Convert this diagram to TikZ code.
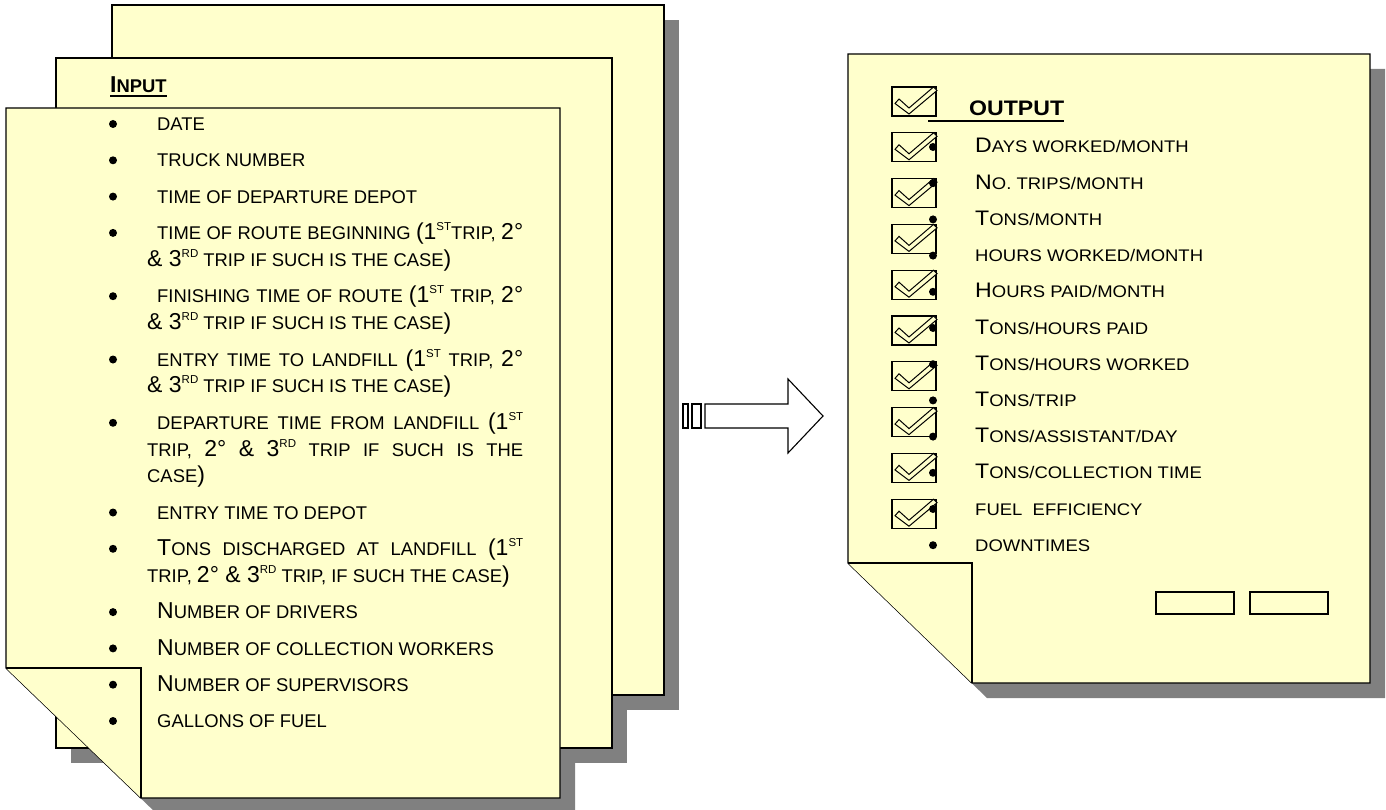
\documentclass[tikz,border=0pt]{standalone}
\usepackage{fontspec}
\setmainfont{Liberation Sans}
\newfontfamily\rfont{Liberation Sans}[FakeStretch=1.1]
\definecolor{paper}{HTML}{FFFFCC}
\definecolor{shade}{HTML}{808080}
% large capitals and raised ordinals for the small-caps style lists
\newcommand\Bg[1]{{\fontsize{23}{26.7}\selectfont #1}}
\newcommand\Sp[1]{\raisebox{9pt}{\fontsize{11.5}{11.5}\selectfont #1}}
\newcommand\RB[1]{{\fontsize{21}{26}\selectfont #1}}
\tikzset{
  sheet/.style={fill=paper, draw=black, line width=1.4pt, line join=miter},
  sheetshadow/.style={fill=shade},
  txt/.style={inner sep=0pt, anchor=base west, font=\fontsize{18.4}{26.7}\selectfont},
  rtxt/.style={inner sep=0pt, anchor=base west, font=\rfont\fontsize{16.8}{26}\selectfont},
  dot/.style={fill=black},
  tickbox/.style={fill=paper, draw=black, line width=1.2pt},
  tick/.style={fill=paper, draw=black, line width=1pt, line join=miter},
  arrowshape/.style={fill=white, draw=black, line width=1.1pt, line join=miter}
}
\begin{document}
\begin{tikzpicture}[x=1pt, y=-1pt]
\useasboundingbox (0,0) rectangle (1386,810);

% ---- shadows (behind every sheet) ----
\begin{scope}[shift={(15,15)}]
  \fill[sheetshadow] (112,5) rectangle (664,695);
  \fill[sheetshadow] (56,58) rectangle (612,748);
  \fill[sheetshadow] (6,108) -- (560,108) -- (560,798) -- (141,798) -- (6,668) -- cycle;
  \fill[sheetshadow] (848,54) -- (1370,54) -- (1370,683) -- (972,683) -- (848,563) -- cycle;
\end{scope}

% ---- input sheets ----
\draw[sheet] (112,5) rectangle (664,695);
\draw[sheet] (56,58) rectangle (612,748);
\draw[sheet] (6,108) -- (560,108) -- (560,798) -- (141,798) -- (6,668) -- cycle;
\draw[sheet] (6,668) -- (141,668) -- (141,798);

% header
\node[txt, font=\bfseries\fontsize{18.4}{26.7}\selectfont] (inhead) at (110,93) {\Bg{I}NPUT};
\draw[line width=2pt] (inhead.south west |- 0,96) -- (inhead.south east |- 0,96);

% bullets of the input list
\foreach \c in {124,160.3,196.6,232.9,296.2,359.5,422.8,512.5,548.8,612.1,648.4,684.7,721}
  \fill[dot] (113,\c) circle (4pt);

\node[txt] (i1) at (157,130.6) {DATE};
\node[txt] (i2) at (157,166.9) {TRUCK NUMBER};
\node[txt] (i3) at (157,203.2) {TIME OF DEPARTURE DEPOT};
\node[txt] (i4a) at (157,239.5) {\makebox[366pt][s]{TIME OF ROUTE BEGINNING \Bg{(1}\Sp{ST}TRIP, \Bg{2°}}};
\node[txt] (i4b) at (147,266.2) {\Bg{\& 3}\Sp{RD} TRIP IF SUCH IS THE CASE\Bg{)}};
\node[txt] (i5a) at (157,302.8) {\makebox[366pt][s]{FINISHING TIME OF ROUTE \Bg{(1}\Sp{ST} TRIP, \Bg{2°}}};
\node[txt] (i5b) at (147,329.5) {\Bg{\& 3}\Sp{RD} TRIP IF SUCH IS THE CASE\Bg{)}};
\node[txt] (i6a) at (157,366.1) {\makebox[366pt][s]{ENTRY TIME TO LANDFILL \Bg{(1}\Sp{ST} TRIP, \Bg{2°}}};
\node[txt] (i6b) at (147,392.8) {\Bg{\& 3}\Sp{RD} TRIP IF SUCH IS THE CASE\Bg{)}};
\node[txt] (i7a) at (157,429.4) {\makebox[366pt][s]{DEPARTURE TIME FROM LANDFILL \Bg{(1}\Sp{ST}}};
\node[txt] (i7b) at (147,456.1) {\makebox[376pt][s]{TRIP, \Bg{2°} \Bg{\&} \Bg{3}\Sp{RD} TRIP IF SUCH IS THE}};
\node[txt] (i7c) at (147,482.8) {CASE\Bg{)}};
\node[txt] (i8) at (157,519.1) {ENTRY TIME TO DEPOT};
\node[txt] (i9a) at (157,555.4) {\makebox[366pt][s]{\Bg{T}ONS DISCHARGED AT LANDFILL \Bg{(1}\Sp{ST}}};
\node[txt] (i9b) at (147,582.1) {TRIP, \Bg{2° \& 3}\Sp{RD} TRIP, IF SUCH THE CASE\Bg{)}};
\node[txt] (i10) at (157,618.7) {\Bg{N}UMBER OF DRIVERS};
\node[txt] (i11) at (157,655.0) {\Bg{N}UMBER OF COLLECTION WORKERS};
\node[txt] (i12) at (157,691.3) {\Bg{N}UMBER OF SUPERVISORS};
\node[txt] (i13) at (157,727.6) {GALLONS OF FUEL};

% ---- block arrow ----
\draw[arrowshape] (683,404) rectangle (688,428);
\draw[arrowshape] (692,404) rectangle (701,428);
\draw[arrowshape] (705,404) -- (788,404) -- (788,379) -- (823,416) -- (788,453) -- (788,428) -- (705,428) -- cycle;

% ---- output sheet ----
\draw[sheet] (848,54) -- (1370,54) -- (1370,683) -- (972,683) -- (848,563) -- cycle;
\draw[sheet] (848,563) -- (972,563) -- (972,683);

% tick boxes
\foreach \t in {87,132.8,178.6,224.4,270.2,316,361.8,407.6,453.4,499.2} {
  \begin{scope}[shift={(892,\t)}]
    \draw[tickbox] (0,0) rectangle (44,29);
    \draw[tick] (3,16.5) -- (17,27) -- (45,3.5) -- (41.5,0) -- (17,21) -- (7,12) -- cycle;
  \end{scope}
}

% heading of the output list
\node[rtxt, font=\rfont\bfseries\fontsize{21}{26}\selectfont] (outhead) at (969,116) {OUTPUT};
\draw[line width=2pt] (928,121.5) -- (outhead.south east |- 0,121.5);

% bullets of the output list
\foreach \k in {0,...,11}
  \fill[dot] (933,147+36.2*\k) circle (4pt);

\node[rtxt] (o1) at (975,153) {\RB{D}AYS WORKED/MONTH};
\node[rtxt] (o2) at (975,189.2) {\RB{N}O. TRIPS/MONTH};
\node[rtxt] (o3) at (975,225.4) {\RB{T}ONS/MONTH};
\node[rtxt] (o4) at (975,261.6) {HOURS WORKED/MONTH};
\node[rtxt] (o5) at (975,297.8) {\RB{H}OURS PAID/MONTH};
\node[rtxt] (o6) at (975,334) {\RB{T}ONS/HOURS PAID};
\node[rtxt] (o7) at (975,370.2) {\RB{T}ONS/HOURS WORKED};
\node[rtxt] (o8) at (975,406.4) {\RB{T}ONS/TRIP};
\node[rtxt] (o9) at (975,442.6) {\RB{T}ONS/ASSISTANT/DAY};
\node[rtxt] (o10) at (975,478.8) {\RB{T}ONS/COLLECTION TIME};
\node[rtxt] (o11) at (975,515) {FUEL\ \ EFFICIENCY};
\node[rtxt] (o12) at (975,551.2) {DOWNTIMES};

% two empty fields
\draw[tickbox] (1156,592) rectangle (1234,614);
\draw[tickbox] (1250,592) rectangle (1328,614);
\end{tikzpicture}
\end{document}
